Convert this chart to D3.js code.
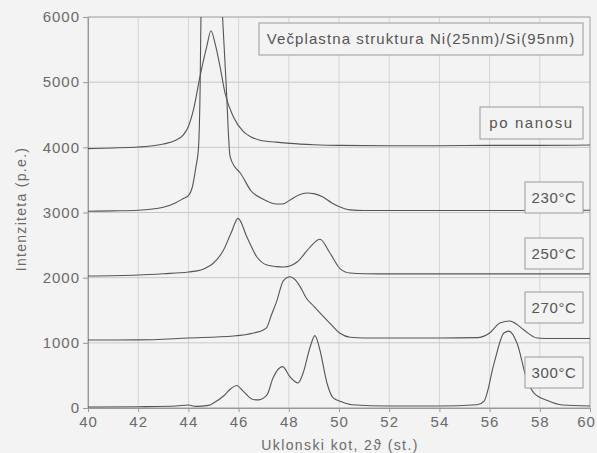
<!DOCTYPE html>
<html><head><meta charset="utf-8">
<script src="https://cdn.jsdelivr.net/npm/d3@7"></script>
<style>
html,body{margin:0;padding:0;background:#f3f3f3;}
svg{display:block;}
</style></head>
<body>
<svg id="chart" width="597" height="453"></svg>
<script>
// ---- data ----
const xTicks = [40, 42, 44, 46, 48, 50, 52, 54, 56, 58, 60];
const yTicks = [0, 1000, 2000, 3000, 4000, 5000, 6000];
const seriesNames = ["po nanosu", "230°C", "250°C", "270°C", "300°C"];
const titleText = "Večplastna struktura Ni(25nm)/Si(95nm)";

const poNanosuX = [40, 41, 42, 42.5, 43, 43.5, 43.8, 44.0, 44.2, 44.46, 44.73, 44.9, 45.06, 45.26, 45.46, 45.79, 46.19, 46.5, 46.85, 47.5, 48.05, 49, 50, 52, 54, 56, 58, 60];
const poNanosuY = [3980, 3990, 4005, 4020, 4050, 4110, 4190, 4320, 4573, 5084, 5545, 5790, 5600, 5240, 4830, 4470, 4240, 4160, 4110, 4080, 4060, 4040, 4030, 4025, 4025, 4030, 4030, 4035];

const t230X = [40, 41, 42, 43, 43.5, 43.8, 44.0, 44.15, 44.3, 44.4, 44.47, 44.5, 44.9, 45.36, 45.5, 45.66, 45.85, 46.06, 46.5, 47.0, 47.5, 47.75, 48.05, 48.4, 48.72, 49.0, 49.36, 49.7, 49.95, 50.44, 51, 52, 54, 56, 58, 60];
const t230Y = [3020, 3025, 3035, 3080, 3150, 3215, 3260, 3380, 3700, 3980, 5000, 6000, 9500, 6000, 5000, 3860, 3700, 3610, 3330, 3200, 3130, 3130, 3192, 3270, 3300, 3290, 3238, 3150, 3100, 3040, 3030, 3030, 3030, 3030, 3030, 3035];

const t250X = [40, 42, 43, 44, 44.5, 44.8, 45.0, 45.4, 45.7, 45.98, 46.33, 46.73, 47.13, 47.5, 47.8, 48.33, 48.85, 49.24, 49.64, 50.04, 50.44, 51, 52, 54, 56, 58, 60];
const t250Y = [2025, 2040, 2060, 2087, 2117, 2170, 2225, 2424, 2685, 2910, 2624, 2317, 2194, 2170, 2164, 2240, 2470, 2590, 2378, 2140, 2071, 2060, 2058, 2058, 2058, 2058, 2058];

const t270X = [40, 42, 44, 45.8, 46.6, 47.0, 47.13, 47.3, 47.52, 47.78, 48.05, 48.25, 48.45, 48.71, 49.0, 49.24, 49.64, 50.04, 50.44, 51, 52, 54, 55.5, 56.0, 56.41, 56.81, 57.1, 57.37, 57.9, 58.5, 60];
const t270Y = [1043, 1045, 1074, 1105, 1151, 1200, 1240, 1420, 1640, 1950, 2015, 1970, 1862, 1680, 1560, 1460, 1300, 1146, 1085, 1074, 1074, 1074, 1080, 1151, 1304, 1335, 1280, 1197, 1074, 1066, 1066];

const t300X = [40, 42, 43.5, 44, 44.3, 44.8, 45.0, 45.4, 45.7, 45.92, 46.2, 46.57, 46.8, 47.13, 47.37, 47.75, 48.05, 48.37, 48.57, 48.85, 49.04, 49.24, 49.52, 49.76, 50.1, 50.5, 52, 54, 55.5, 55.78, 56.18, 56.57, 56.77, 57.09, 57.49, 57.77, 58.3, 58.9, 60];
const t300Y = [15, 20, 30, 46, 25, 40, 77, 184, 300, 345, 250, 130, 125, 200, 460, 635, 476, 384, 537, 936, 1110, 890, 384, 160, 95, 50, 30, 30, 50, 107, 690, 1151, 1180, 997, 430, 230, 115, 46, 30];

// ---- layout ----
const svg = d3.select("#chart");
const W = 597, H = 453;
const m = {left: 88, right: 7, top: 17, bottom: 45};
const iw = W - m.left - m.right, ih = H - m.top - m.bottom;

const x = d3.scaleLinear().domain([40, 60]).range([m.left, m.left + iw]);
const y = d3.scaleLinear().domain([0, 6000]).range([m.top + ih, m.top]);

const textCol = "#6a6a6a";
const font = "Liberation Sans, Arial, sans-serif";

svg.append("rect").attr("width", W).attr("height", H).attr("fill", "#f3f3f3");

// grid
const grid = svg.append("g");
grid.selectAll("line.v").data(xTicks).join("line")
  .attr("x1", d => x(d)).attr("x2", d => x(d))
  .attr("y1", y(0)).attr("y2", y(6000))
  .attr("stroke", "#d4d4d4").attr("stroke-width", 1);
grid.selectAll("line.h").data(yTicks).join("line")
  .attr("x1", x(40)).attr("x2", x(60))
  .attr("y1", d => y(d)).attr("y2", d => y(d))
  .attr("stroke", "#c8c8c8").attr("stroke-width", 1);

// frame
svg.append("rect").attr("x", x(40)).attr("y", y(6000))
  .attr("width", x(60) - x(40)).attr("height", y(0) - y(6000))
  .attr("fill", "none").attr("stroke", "#b0b0b0").attr("stroke-width", 1);

// axes
const xAxis = svg.append("g").attr("transform", `translate(0,${y(0)})`)
  .call(d3.axisBottom(x).tickValues(xTicks).tickSize(4).tickPadding(4).tickFormat(d3.format("d")));
const yAxis = svg.append("g").attr("transform", `translate(${x(40)},0)`)
  .call(d3.axisLeft(y).tickValues(yTicks).tickSize(5).tickPadding(3).tickFormat(d3.format("d")));
[xAxis, yAxis].forEach(a => {
  a.select(".domain").attr("stroke", "#999");
  a.selectAll(".tick line").attr("stroke", "#999");
  a.selectAll("text").attr("fill", textCol).attr("font-family", font).attr("font-size", 15)
    .attr("letter-spacing", "1px");
});
xAxis.selectAll(".tick").filter(d => d === 60).select("text").attr("dx", "-4");

// clip
svg.append("clipPath").attr("id", "clip").append("rect")
  .attr("x", x(40)).attr("y", y(6000)).attr("width", x(60) - x(40)).attr("height", y(0) - y(6000));

const line = d3.line().x(d => x(d[0])).y(d => y(d[1])).curve(d3.curveMonotoneX);
const series = [
  [poNanosuX, poNanosuY],
  [t230X, t230Y],
  [t250X, t250Y],
  [t270X, t270Y],
  [t300X, t300Y]
];
const lines = svg.append("g").attr("clip-path", "url(#clip)");
series.forEach(([xs, ys]) => {
  lines.append("path").datum(xs.map((v, i) => [v, ys[i]]))
    .attr("d", line).attr("fill", "none")
    .attr("stroke", "#555").attr("stroke-width", 1.1).attr("stroke-linejoin", "round");
});

// label boxes
function box(x0, y0, w, h, text, fs, ls) {
  svg.append("rect").attr("x", x0).attr("y", y0).attr("width", w).attr("height", h)
    .attr("fill", "#f3f3f3").attr("stroke", "#9a9a9a").attr("stroke-width", 1);
  svg.append("text").attr("x", x0 + w / 2).attr("y", y0 + h / 2 + 5)
    .attr("text-anchor", "middle").attr("font-family", font).attr("font-size", fs)
    .attr("letter-spacing", ls).attr("fill", "#555").text(text);
}
box(259, 23, 324, 32, titleText, 15, "1.1px");
box(480, 107, 103, 32, seriesNames[0], 15, "1.6px");
box(525, 182, 58, 31, seriesNames[1], 15, "0.6px");
box(525, 238, 58, 31, seriesNames[2], 15, "0.6px");
box(525, 292, 58, 31, seriesNames[3], 15, "0.6px");
box(525, 357, 58, 31, seriesNames[4], 15, "0.6px");

// axis titles
svg.append("text").attr("transform", `translate(26,209) rotate(-90)`)
  .attr("text-anchor", "middle").attr("font-family", font).attr("font-size", 14)
  .attr("letter-spacing", "1.3px").attr("fill", textCol).text("Intenziteta (p.e.)");
svg.append("text").attr("x", 340).attr("y", 450)
  .attr("text-anchor", "middle").attr("font-family", font).attr("font-size", 14)
  .attr("letter-spacing", "1.4px").attr("fill", textCol).text("Uklonski kot, 2ϑ (st.)");
</script>
</body></html>
